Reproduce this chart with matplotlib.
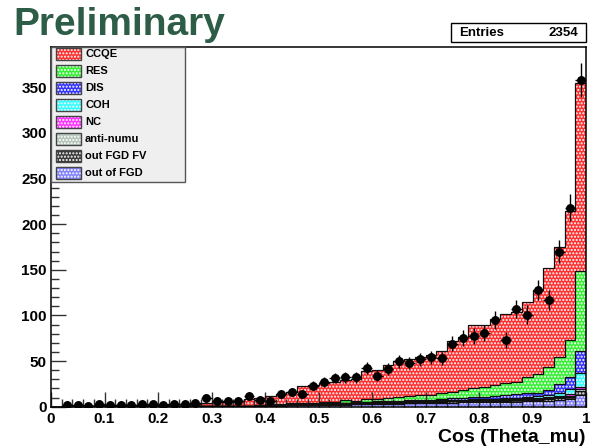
import numpy as np
import matplotlib
matplotlib.use('Agg')
import matplotlib.pyplot as plt
from matplotlib.patches import Rectangle
from matplotlib.ticker import MultipleLocator, FormatStrFormatter

plt.rcParams['font.family'] = ['Liberation Sans', 'DejaVu Sans']
plt.rcParams['font.weight'] = 'bold'
plt.rcParams['hatch.linewidth'] = 1.0

# cos(theta_mu) binning: 50 bins of 0.02
edges = np.linspace(0, 1, 51)
centers = 0.5 * (edges[:-1] + edges[1:])

# data counts per bin
data = [0, 2, 2, 1, 3, 2, 2, 2, 3, 3, 2, 3, 3, 4, 9, 6, 6, 6, 12, 7,
        6, 14, 16, 14, 23, 27, 31, 32, 32, 42, 34, 41, 50, 48, 52, 54,
        53, 69, 75, 77, 81, 95, 73, 107, 101, 128, 117, 170, 218, 358]

# MC components, stacked bottom -> top
out_fgd = [0, .2, .2, .2, .2, .2, .2, .2, .2, .2, .2, .2, .3, .3, .4, .4, .4, .5, .5, .6,
           1.0, 1.2, 1.4, 1.6, 1.8, 2.0, 2.2, 2.4, 2.6, 2.8, 3.0, 3.2, 3.4, 3.6, 3.8, 4.0,
           4.4, 4.6, 4.8, 5.0, 5.0, 5.2, 5.4, 5.6, 5.8, 6.0, 6.4, 7.0, 8.0, 13.0]
out_fgd_fv = [0, .1, .1, .1, .1, .1, .1, .1, .1, .1, .1, .1, .1, .1, .1, .1, .1, .1, .1, .1,
              .3, .3, .4, .4, .5, .5, .6, .6, .7, .7, .8, .8, .9, .9, 1.0, 1.0,
              1.0, 1.1, 1.1, 1.2, 1.2, 1.3, 1.3, 1.4, 1.5, 1.6, 1.8, 2.0, 2.5, 4.0]
anti_numu = [0, .05, .05, .05, .05, .05, .05, .05, .05, .05, .05, .05, .05, .05, .05, .05, .05, .05, .05, .05,
             .1, .1, .2, .2, .2, .3, .3, .3, .4, .4, .4, .5, .5, .5, .6, .6,
             .6, .7, .7, .8, .8, .8, .9, .9, 1.0, 1.0, 1.1, 1.2, 1.5, 2.0]
nc = [0, .05, .05, .05, .05, .05, .05, .05, .05, .05, .05, .05, .05, .05, .05, .05, .05, .05, .05, .05,
      .2, .2, .2, .3, .3, .3, .3, .4, .4, .4, .5, .5, .5, .6, .6, .6,
      .7, .7, .8, .8, .9, .9, 1.0, 1.0, 1.1, 1.2, 1.5, 1.8, 2.2, 3.0]
coh = [0, 0, 0, 0, 0, 0, 0, 0, 0, 0, 0, 0, 0, 0, 0, 0, 0, 0, 0, 0,
       .1, .1, .1, .1, .1, .1, .1, .1, .1, .1, .1, .1, .1, .1, .1, .1,
       .2, .2, .3, .3, .4, .6, .8, 1.0, 1.2, 1.5, 2.5, 3.5, 5.0, 15.0]
dis = [0, .05, .05, .05, .05, .05, .05, .05, .05, .05, .05, .05, .05, .05, .05, .05, .05, .05, .05, .05,
       .3, .3, .4, .4, .5, .5, .6, .6, .7, .8, .9, 1.0, 1.1, 1.2, 1.3, 1.4,
       1.6, 1.8, 2.0, 2.4, 2.6, 3.0, 3.2, 3.5, 4.0, 4.0, 5.5, 9.0, 13.5, 24.0]
res = [0, .1, .1, .1, .1, .1, .1, .1, .1, .1, .1, .1, .1, .1, .3, .3, .4, .4, .5, .6,
       .8, .9, 1.0, 1.0, 1.1, 1.2, 1.3, 2.9, 1.1, 2.8, 2.8, 2.9, 4.5, 4.6, 5.1, 5.3,
       6.0, 7.4, 8.8, 10.0, 10.6, 11.7, 12.9, 14.1, 18.4, 20.7, 25.2, 30.5, 40.3, 88.0]
ccqe = [0, .5, .5, .7, .9, 1.0, 1.1, 1.3, 1.5, 1.7, 1.9, 2.1, 2.4, 2.8, 3.6, 4.1, 4.5, 5.1, 6.8, 7.6,
        9.2, 10.4, 12.8, 19.0, 19.0, 21.1, 22.1, 21.7, 24.0, 31.0, 31.5, 36.5, 39.0, 40.5, 42.5, 44.0,
        46.5, 55.5, 57.5, 68.5, 68.5, 72.5, 76.5, 76.5, 82.0, 92.0, 108.0, 120.0, 141.0, 206.0]

stack = [out_fgd, out_fgd_fv, anti_numu, nc, coh, dis, res, ccqe]
stack_colors = ['#8282ff', '#3a3a3a', '#b4c6bc', '#ff33ff', '#33ffff', '#3333ff', '#33f033', '#ff3030']

legend_labels = ['CCQE', 'RES', 'DIS', 'COH', 'NC', 'anti-numu', 'out FGD FV', 'out of FGD']
legend_colors = ['#ff3030', '#33f033', '#3333ff', '#33ffff', '#ff33ff', '#b4c6bc', '#3a3a3a', '#8282ff']

entries = 2354

fig = plt.figure(figsize=(6.08, 4.48), dpi=100)
ax = fig.add_axes([51 / 608, 1 - 406.7 / 448, 535 / 608, 360 / 448])

bottom = np.zeros(50)
for vals, col in zip(stack, stack_colors):
    vals = np.array(vals)
    ax.bar(edges[:-1], vals, width=0.02, bottom=bottom, align='edge', color=col,
           edgecolor='white', hatch='.....', linewidth=0, zorder=1)
    bottom = bottom + vals
    ax.stairs(bottom, edges, baseline=None, color='#111111', lw=0.9, zorder=2)

data = np.array(data, dtype=float)
m = data > 0
ax.errorbar(centers[m], data[m], yerr=np.sqrt(data[m]), xerr=0.01, fmt='o', color='k',
            ms=5.4, elinewidth=1, capsize=0, zorder=3)

ax.set_xlim(0, 1)
ax.set_ylim(0, 394.5)
ax.xaxis.set_major_locator(MultipleLocator(0.1))
ax.xaxis.set_minor_locator(MultipleLocator(0.02))
ax.yaxis.set_major_locator(MultipleLocator(50))
ax.yaxis.set_minor_locator(MultipleLocator(10))
ax.xaxis.set_major_formatter(FormatStrFormatter('%g'))
ax.tick_params(which='both', direction='in', top=False, right=False, labelsize=11, color='#333333')
ax.tick_params(which='major', length=11, width=1)
ax.tick_params(which='minor', length=6, width=1)
ax.tick_params(axis='x', pad=4)
ax.tick_params(axis='y', pad=3)
for s in ax.spines.values():
    s.set_linewidth(1.1)

# overlay in pixel units for title, stats box, legend, axis title
ov = fig.add_axes([0, 0, 1, 1])
ov.set_xlim(0, 608)
ov.set_ylim(448, 0)
ov.axis('off')

ov.text(13, 35, 'Preliminary', fontsize=28, color='#2e5d47', ha='left', va='baseline')

ov.add_patch(Rectangle((451, 23.3), 135, 18.4, facecolor='white', edgecolor='black', lw=1))
ov.text(459, 32.5, 'Entries', fontsize=9.5, ha='left', va='center')
ov.text(578, 32.5, str(entries), fontsize=9.5, ha='right', va='center')

ov.add_patch(Rectangle((51, 46.7), 134, 135.3, facecolor='#efefef', edgecolor='#555555', lw=1, zorder=5))
for k, (lab, col) in enumerate(zip(legend_labels, legend_colors)):
    yc = 54.3 + 16.9 * k
    ov.add_patch(Rectangle((56, yc - 6), 25, 12, facecolor=col, edgecolor='white',
                           hatch='.....', lw=0, zorder=6))
    ov.add_patch(Rectangle((56, yc - 6), 25, 12, fill=False, edgecolor='#444444', lw=1, zorder=7))
    ov.text(85, yc, lab, fontsize=8, ha='left', va='center', zorder=7)

ov.text(586, 438, 'Cos (Theta_mu)', fontsize=14, ha='right', va='center')

fig.savefig('out.png', dpi=100)
